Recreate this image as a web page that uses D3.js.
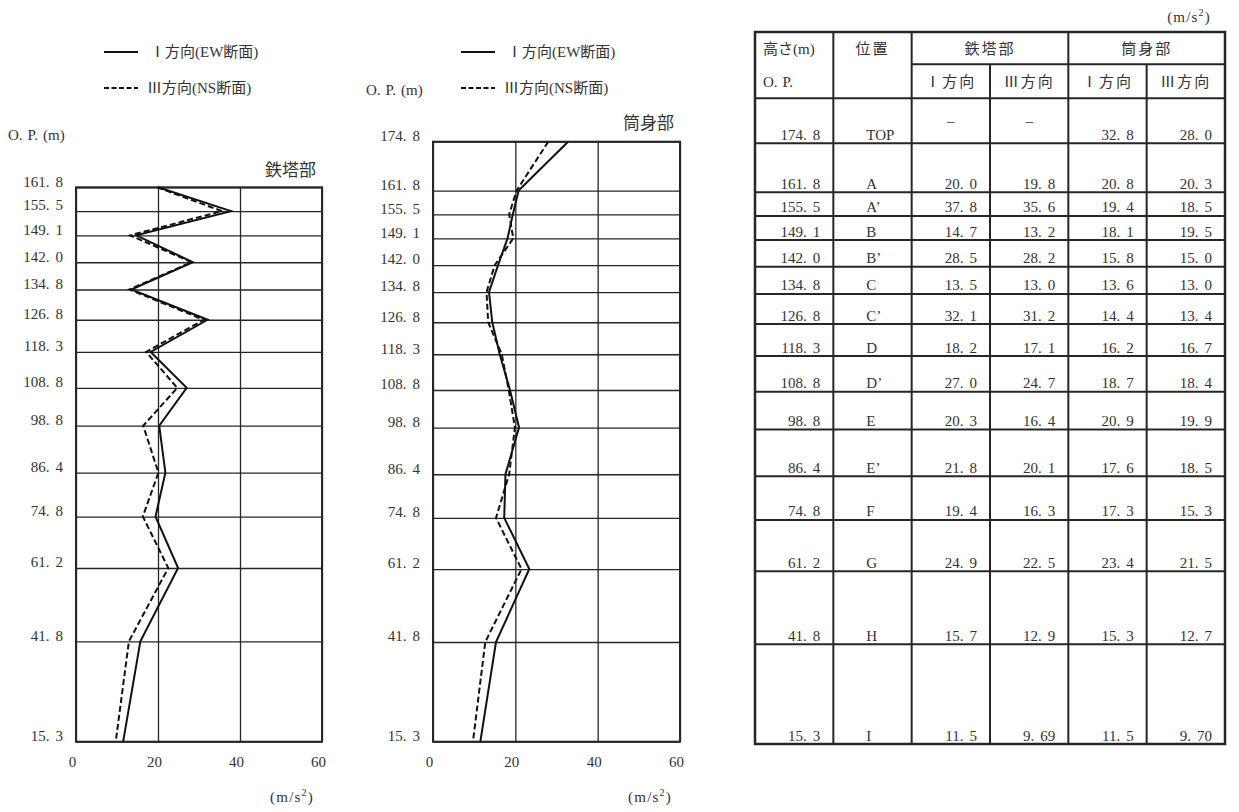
<!DOCTYPE html>
<html>
<head>
<meta charset="utf-8">
<script src="https://cdn.jsdelivr.net/npm/d3@7"></script>
<style>
body { margin: 0; background: #fff; }
svg text { font-family: "Liberation Serif", "Noto Sans CJK JP", serif; fill: #333; font-size: 15px; }
</style>
</head>
<body>
<svg id="chart"></svg>
<script>
// 高さ O.P.(m) と位置
var heights = [174.8, 161.8, 155.5, 149.1, 142.0, 134.8, 126.8, 118.3, 108.8, 98.8, 86.4, 74.8, 61.2, 41.8, 15.3];
var positions = ["TOP", "A", "A’", "B", "B’", "C", "C’", "D", "D’", "E", "E’", "F", "G", "H", "I"];
// 鉄塔部 (m/s2)
var towerI = [null, 20.0, 37.8, 14.7, 28.5, 13.5, 32.1, 18.2, 27.0, 20.3, 21.8, 19.4, 24.9, 15.7, 11.5];
var towerIII = [null, 19.8, 35.6, 13.2, 28.2, 13.0, 31.2, 17.1, 24.7, 16.4, 20.1, 16.3, 22.5, 12.9, 9.69];
// 筒身部 (m/s2)
var shellI = [32.8, 20.8, 19.4, 18.1, 15.8, 13.6, 14.4, 16.2, 18.7, 20.9, 17.6, 17.3, 23.4, 15.3, 11.5];
var shellIII = [28.0, 20.3, 18.5, 19.5, 15.0, 13.0, 13.4, 16.7, 18.4, 19.9, 18.5, 15.3, 21.5, 12.7, 9.70];
var xTicks = [0, 20, 40, 60];
var legendLabels = ["Ⅰ方向(EW断面)", "Ⅲ方向(NS断面)"];
var colHeads = ["Ⅰ方向", "Ⅲ方向", "Ⅰ方向", "Ⅲ方向"];

var W = 1239, H = 812, ink = "#262626";

var svg = d3.select("#chart").attr("width", W).attr("height", H);

var fmt = function(v) {
  return v < 10 ? d3.format(".2f")(v) : d3.format(".1f")(v);
};

// 小数点の後ろを少し空ける (全角ピリオド風)
function spaced(sel, gap) {
  sel.each(function() {
    var t = d3.select(this), parts = t.text().split(".");
    t.text(null);
    parts.forEach(function(p, i) {
      t.append("tspan").attr("dx", i ? gap : null).text(p + (i < parts.length - 1 ? "." : ""));
    });
  });
}

function unitLabel(g, x, y, anchor) {
  var t = g.append("text").attr("x", x).attr("y", y).attr("text-anchor", anchor)
    .style("letter-spacing", "1.2px");
  t.append("tspan").text("(m/s");
  t.append("tspan").attr("dy", -6).attr("font-size", 10).text("2");
  t.append("tspan").attr("dy", 6).text(")");
}

function drawChart(o) {
  var x = d3.scaleLinear().domain([0, 60]).range([o.left, o.right]);
  var y = d3.scaleLinear().domain([15.3, o.top]).range([o.bottom, o.topY]);
  var w = o.right - o.left, h = o.bottom - o.topY;
  var g = svg.append("g");

  var gy = g.append("g").attr("transform", "translate(" + o.left + ",0)")
    .call(d3.axisLeft(y).tickValues(o.levels).tickSize(-w).tickPadding(13).tickFormat(fmt));
  gy.select(".domain").remove();
  gy.selectAll("line").attr("stroke", ink).attr("stroke-width", 1.3);
  gy.selectAll("text").attr("dy", "-0.08em").call(spaced, 6);

  var gx = g.append("g").attr("transform", "translate(0," + o.bottom + ")")
    .call(d3.axisBottom(x).tickValues(xTicks).tickSize(-h).tickPadding(15));
  gx.select(".domain").remove();
  gx.selectAll("line").attr("stroke", ink).attr("stroke-width", 1.3);
  gx.selectAll("text").attr("dx", -4);

  g.append("rect").attr("x", o.left).attr("y", o.topY).attr("width", w).attr("height", h)
    .attr("fill", "none").attr("stroke", ink).attr("stroke-width", 2);

  var line = d3.line()
    .defined(function(d) { return d.v != null; })
    .x(function(d) { return x(d.v); })
    .y(function(d) { return y(d.h); });

  [o.seriesI, o.seriesIII].forEach(function(s, k) {
    g.append("path")
      .attr("d", line(heights.map(function(hh, i) { return { h: hh, v: s[i] }; })))
      .attr("fill", "none").attr("stroke", "#111").attr("stroke-width", 2)
      .attr("stroke-dasharray", k ? "6,3" : null);
  });

  g.append("text").attr("x", o.right - 6).attr("y", o.titleY).attr("text-anchor", "end")
    .style("font-size", "17px").text(o.title);
  g.append("text").attr("x", o.opX).attr("y", o.opY).text("O.P.(m)").call(spaced, 5);

  legendLabels.forEach(function(lab, k) {
    var ly = 52 + k * 36;
    g.append("line").attr("x1", o.legX).attr("x2", o.legX + 34).attr("y1", ly).attr("y2", ly)
      .attr("stroke", "#111").attr("stroke-width", 2).attr("stroke-dasharray", k ? "5,2.5" : null);
    g.append("text").attr("x", o.legX + 46 - k * 3).attr("y", ly + 5).text(lab);
  });

  unitLabel(g, o.right - 30, 802, "middle");
}

drawChart({ left: 76, right: 322, topY: 187.3, bottom: 741.7, top: 161.8,
  levels: heights.slice(1), seriesI: towerI, seriesIII: towerIII,
  title: "鉄塔部", titleY: 176, opX: 8, opY: 140, legX: 104 });

drawChart({ left: 433, right: 680, topY: 141.7, bottom: 741.7, top: 174.8,
  levels: heights, seriesI: shellI, seriesIII: shellIII,
  title: "筒身部", titleY: 129, opX: 366, opY: 95, legX: 461 });

// 表
var cx = d3.scaleLinear().domain([0, 6]).range([755, 1225]);
var ty = d3.scaleLinear().domain([15.3, 174.8]).range([744, 143.3]);
var tTop = 32, tMid = 64.3, tHead = 98.3, tBot = ty(15.3);
var tg = svg.append("g");

unitLabel(tg, 1211, 22, "end");

var hLines = [[cx(2), cx(6), tMid], [cx(0), cx(6), tHead]]
  .concat(heights.slice(0, -1).map(function(hh) { return [cx(0), cx(6), ty(hh)]; }));
tg.selectAll(".hl").data(hLines).join("line")
  .attr("x1", function(d) { return d[0]; }).attr("x2", function(d) { return d[1]; })
  .attr("y1", function(d) { return d[2]; }).attr("y2", function(d) { return d[2]; })
  .attr("stroke", ink).attr("stroke-width", 2);

var vLines = [[1, tTop], [2, tTop], [3, tMid], [4, tTop], [5, tMid]];
tg.selectAll(".vl").data(vLines).join("line")
  .attr("x1", function(d) { return cx(d[0]); }).attr("x2", function(d) { return cx(d[0]); })
  .attr("y1", function(d) { return d[1]; }).attr("y2", tBot)
  .attr("stroke", ink).attr("stroke-width", 2);

tg.append("rect").attr("x", cx(0)).attr("y", tTop).attr("width", cx(6) - cx(0)).attr("height", tBot - tTop)
  .attr("fill", "none").attr("stroke", ink).attr("stroke-width", 2.5);

tg.append("text").attr("x", cx(0) + 8).attr("y", 54).text("高さ(m)");
tg.append("text").attr("x", cx(0) + 8).attr("y", 87).text("O.P.").call(spaced, 5);

var heads = [["位置", 1.5, 54], ["鉄塔部", 3, 54], ["筒身部", 5, 54]]
  .concat(colHeads.map(function(c, k) { return [c, k + 2.5, 87]; }));
tg.selectAll(".hd").data(heads).join("text")
  .attr("x", function(d) { return cx(d[1]); }).attr("y", function(d) { return d[2]; })
  .attr("text-anchor", "middle").style("letter-spacing", "2px").text(function(d) { return d[0]; });

var cols = [towerI, towerIII, shellI, shellIII];
heights.forEach(function(hh, i) {
  var by = ty(hh) - 3.5;
  tg.append("text").attr("x", cx(1) - 13).attr("y", by).attr("text-anchor", "end").text(fmt(hh)).call(spaced, 6);
  tg.append("text").attr("x", cx(1) + 33).attr("y", by).text(positions[i]);
  cols.forEach(function(c, k) {
    if (c[i] == null) {
      tg.append("text").attr("x", cx(k + 2.5)).attr("y", ty(hh) - 17).attr("text-anchor", "middle").text("–");
    } else {
      tg.append("text").attr("x", cx(k + 3) - 13).attr("y", by).attr("text-anchor", "end").text(fmt(c[i])).call(spaced, 6);
    }
  });
});
</script>
</body>
</html>
